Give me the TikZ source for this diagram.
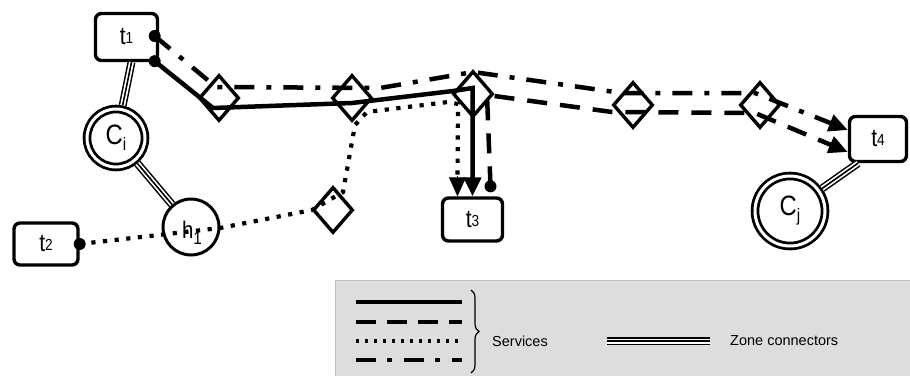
\documentclass[tikz,border=0pt]{standalone}
\usepackage{fontspec}
\setmainfont{Liberation Sans}
\newfontfamily\narrowf[FakeStretch=0.85]{Liberation Sans}
\usetikzlibrary{shapes.geometric,arrows.meta,decorations.pathreplacing,calc}
\newcommand\mytlab[2]{{\narrowf\fontsize{25}{25}\selectfont #1\raisebox{1pt}{\fontsize{16}{16}\selectfont #2}}}
\newcommand\mysublab[3]{{\narrowf\fontsize{#3}{#3}\selectfont #1\raisebox{-6pt}{\fontsize{18}{18}\selectfont #2}}}
\begin{document}
\begin{tikzpicture}[x=1pt,y=-1pt,
  term/.style={draw,line width=3.4pt,rounded corners=6pt,inner sep=0pt},
  zonec/.style={circle,draw,line width=2.8pt,double,double distance=3pt,inner sep=0pt,outer sep=4.3pt},
  hub/.style={circle,draw,line width=3pt,inner sep=0pt},
  dia/.style={diamond,draw,line width=3.4pt,minimum width=40pt,minimum height=46pt,inner sep=0pt},
  zc/.style={preaction={draw,black,line width=8pt},draw=white,line width=5pt,postaction={draw=black,line width=1.6pt}},
  arr/.style={-{Triangle[length=19pt,width=17pt]}},
  sv/.style={line width=4.5pt,line join=miter},
  svsolid/.style={sv},
  svdashed/.style={sv,dash pattern=on 20pt off 13pt},
  svdashdot/.style={sv,dash pattern=on 20pt off 12pt on 5pt off 12pt},
  svdotted/.style={line width=4.2pt,dash pattern=on 4.2pt off 7.5pt},
  legtext/.style={font=\fontsize{14.5}{14.5}\selectfont,anchor=west,inner sep=0pt}
]
\useasboundingbox (0,0) rectangle (910,376);

% legend box
\fill[gray!27] (335,280) rectangle (910,376);
\draw[gray!50,line width=0.6pt] (910,280) -- (335,280) -- (335,376);

% terminals
\node[term,minimum width=62pt,minimum height=47pt] (t1) at (126.5,37) {\mytlab{t}{1}};
\node[term,minimum width=64pt,minimum height=42pt] (t2) at (46,244) {\mytlab{t}{2}};
\node[term,minimum width=60pt,minimum height=43pt] (t3) at (472.5,219.5) {\mytlab{t}{3}};
\node[term,minimum width=57pt,minimum height=45pt] (t4) at (878,139) {\mytlab{t}{4}};

% zones and hub
\node[zonec,minimum size=58pt] (Ci) at (116,138) {\mysublab{C}{i}{28}};
\node[zonec,minimum size=70pt] (Cj) at (790,211) {\mysublab{C}{j}{28}};
\node[hub,minimum size=56pt] (h1) at (191,227) {};
\node[inner sep=0pt] (h1lab) at (192,233) {\mysublab{h}{1}{24}};

% diamonds
\node[dia] (d1) at (219,98) {};
\node[dia] (d2) at (352,98) {};
\node[dia] (d3) at (473,94) {};
\node[dia] (d4) at (633,105) {};
\node[dia] (d5) at (760,105) {};
\node[dia] (d6) at (333,210) {};

% zone connectors
\draw[zc] (Ci) -- ([xshift=5pt]t1.south);
\draw[zc] (Ci) -- (h1);
\draw[zc] (Cj) -- ([xshift=-20pt]t4.south);

% endpoints
\coordinate (t1a) at ([xshift=-4.5pt,yshift=1pt]t1.east);
\coordinate (t1b) at ([xshift=-4.5pt,yshift=1pt]t1.south east);
\coordinate (t2d) at (t2.east);
\coordinate (t3d) at ([xshift=18pt,yshift=10pt]t3.north);

% services
\draw[svsolid,arr] (t1b) -- (213,108) -- (352,103) -- (453,91) -- (472.5,88) -- (t3.north);
\draw[svdashdot,arr] (t1a) -- (216,87) -- (380,88) -- (473,72) -- (622,93) -- (755,93) -- ([yshift=9pt]t4.west);
\draw[svdashed,arr] (t3d) -- (487,95) -- (612,112) -- (755,113) -- ([yshift=-13pt]t4.west);
\draw[svdotted] (t2d) -- (220,228) -- (312,210) -- (343,192) -- (355,125) -- (367,112) -- (448,102) -- (458,104) -- ([xshift=-15pt,yshift=19pt]t3.north);
\draw[arr,line width=0.1pt] ([xshift=-15pt,yshift=20pt]t3.north) -- ([xshift=-15pt]t3.north);

\fill (t1a) circle (6pt);
\fill (t1b) circle (6pt);
\fill (t2d) circle (6pt);
\fill (t3d) circle (6pt);

% legend
\draw[line width=4.5pt] (356,302) -- (462,302);
\draw[line width=4.5pt,dash pattern=on 20pt off 11pt] (356,322) -- (462,322);
\draw[line width=3.5pt,dash pattern=on 3pt off 6pt] (356,341) -- (462,341);
\draw[line width=4.5pt,dash pattern=on 20pt off 11pt on 5pt off 12pt] (356,360) -- (462,360);
\draw[decorate,decoration={brace,amplitude=8pt},line width=1.2pt] (471,290) -- (471,373);
\node[legtext] (serv) at (492,341) {Services};
\draw[zc] (607,341) -- (710,341);
\node[legtext] (zone) at (730,341) {Zone connectors};
\end{tikzpicture}
\end{document}
